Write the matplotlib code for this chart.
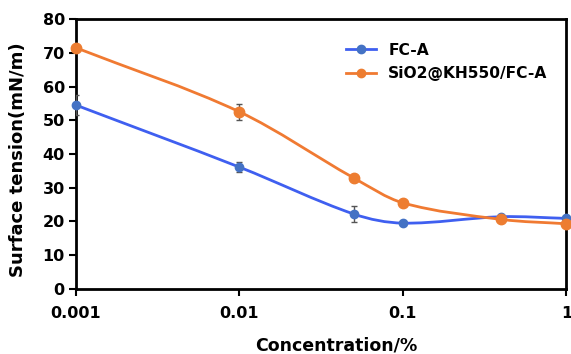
import matplotlib.pyplot as plt
import numpy as np
from matplotlib.path import Path
from matplotlib.patches import PathPatch
from matplotlib.lines import Line2D

conc = [0.001, 0.01, 0.05, 0.1, 0.4, 1]
fca = [54.5, 36.1, 22.2, 19.5, 21.4, 20.9]
fca_err = [3.0, 1.5, 2.5, 0.6, 0.6, 0.5]
sio2 = [71.5, 52.5, 32.9, 25.5, 20.6, 19.3]
sio2_err = [0.6, 2.3, 1.0, 0.6, 0.5, 0.5]
labels = ['FC-A', 'SiO2@KH550/FC-A']
xticks = [0.001, 0.01, 0.1, 1]
xticklabels = ['0.001', '0.01', '0.1', '1']

line_colors = ['#3f5ff0', '#f07a32']
marker_colors = ['#4472c4', '#ed7d31']


def smooth_path(x, y):
    # cubic Hermite pieces in log10(x) with central-difference slopes, as Bezier segments
    t = np.log10(x)
    y = np.asarray(y, float)
    n = len(t)
    h = np.diff(t)
    m = np.empty(n)
    m[1:-1] = (y[2:] - y[:-2]) / (t[2:] - t[:-2])
    m[0] = (y[1] - y[0]) / h[0]
    m[-1] = (y[-1] - y[-2]) / h[-1]
    verts = [(t[0], y[0])]
    codes = [Path.MOVETO]
    for i in range(n - 1):
        verts += [(t[i] + h[i] / 3, y[i] + m[i] * h[i] / 3),
                  (t[i + 1] - h[i] / 3, y[i + 1] - m[i + 1] * h[i] / 3),
                  (t[i + 1], y[i + 1])]
        codes += [Path.CURVE4] * 3
    verts = np.array(verts)
    verts[:, 0] = 10 ** verts[:, 0]
    return Path(verts, codes)


fig = plt.figure(figsize=(5.71, 3.54), dpi=100)
ax = fig.add_axes([0.133, 0.184, 0.859, 0.762])
ax.set_xscale('log')

for ys, err, lc, mc, ms in zip([fca, sio2], [fca_err, sio2_err], line_colors, marker_colors, [6, 7.5]):
    ax.add_patch(PathPatch(smooth_path(conc, ys), fill=False, edgecolor=lc, lw=2, zorder=2))
    ax.errorbar(conc, ys, yerr=err, fmt='none', ecolor='#555555', elinewidth=1,
                capsize=2.5, capthick=1, zorder=3)
    ax.plot(conc, ys, 'o', color=mc, ms=ms, zorder=4, clip_on=False)

ax.set_xlim(0.001, 1)
ax.set_ylim(0, 80)
ax.set_xticks(xticks)
ax.set_xticklabels(xticklabels)
ax.xaxis.set_minor_locator(plt.NullLocator())
ax.set_yticks(range(0, 81, 10))

for s in ax.spines.values():
    s.set_linewidth(2)
ax.tick_params(axis='both', width=1.5, length=5, labelsize=11.5)
ax.tick_params(axis='x', pad=7)
ax.tick_params(axis='y', pad=3)
for t in ax.get_xticklabels() + ax.get_yticklabels():
    t.set_fontweight('bold')

ax.set_xlabel('Concentration/%', fontsize=12.5, fontweight='bold')
ax.xaxis.set_label_coords(0.53, -0.175)
ax.set_ylabel('Surface tension(mN/m)', fontsize=13, fontweight='bold')
ax.yaxis.set_label_coords(-0.1, 0.48)

handles = [Line2D([], [], color=lc, lw=2, marker='o', ms=6, mfc=mc, mec=mc)
           for lc, mc in zip(line_colors, marker_colors)]
ax.legend(handles, labels, loc='upper right', bbox_to_anchor=(0.99, 0.965), frameon=False,
          prop={'weight': 'bold', 'size': 11.2}, handlelength=1.9, labelspacing=0.55)

plt.savefig('out.png', dpi=100)
